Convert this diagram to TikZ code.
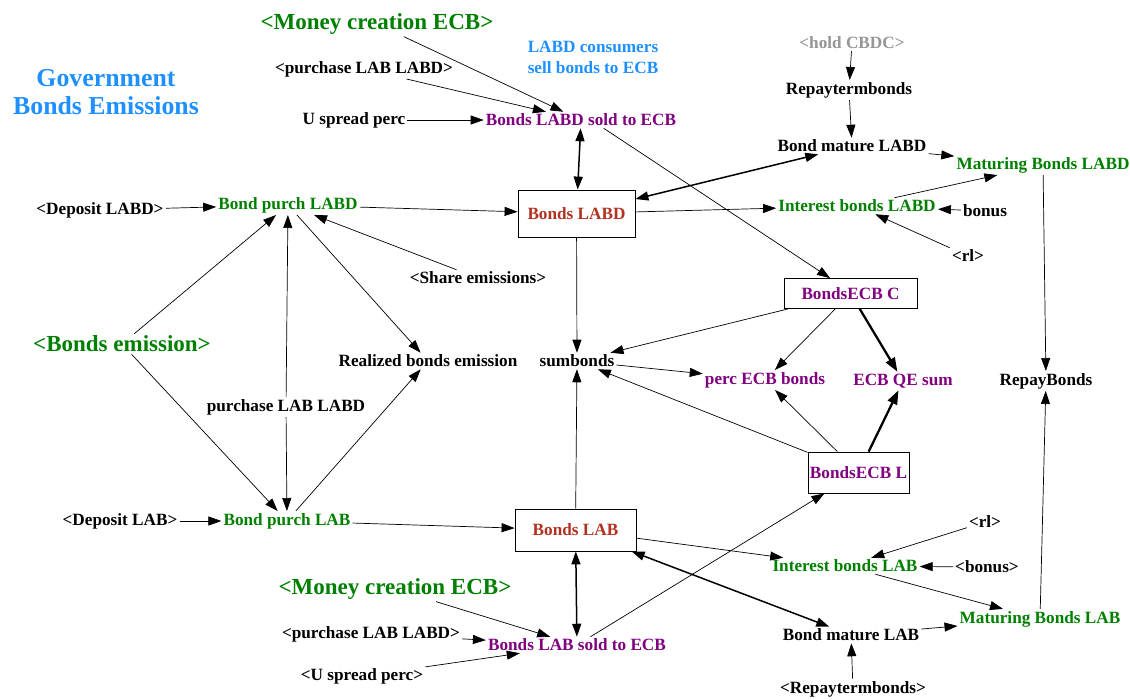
\documentclass[tikz,border=0pt]{standalone}
\usepackage{fontspec}
\setmainfont{Liberation Serif}
\usetikzlibrary{arrows.meta}
\definecolor{vgreen}{RGB}{0,128,0}
\definecolor{vpurple}{RGB}{128,0,128}
\definecolor{vred}{RGB}{178,50,34}
\definecolor{vblue}{RGB}{30,144,255}
\definecolor{vgray}{RGB}{150,150,150}
\begin{document}
\begin{tikzpicture}[x=1pt,y=-1pt,
  every node/.style={font=\bfseries\fontsize{17.2}{21}\selectfont, inner sep=2pt},
  big/.style={font=\bfseries\fontsize{23}{27}\selectfont},
  ttl/.style={font=\bfseries\fontsize{25.8}{28}\selectfont, text=vblue, align=center},
  grn/.style={text=vgreen},
  pur/.style={text=vpurple},
  gry/.style={text=vgray},
  stock/.style={draw, line width=0.8pt, inner sep=0pt},
  arr/.style={-{Triangle[length=13pt,width=9pt]}, line width=0.7pt},
  darr/.style={{Triangle[length=13pt,width=9pt]}-{Triangle[length=13pt,width=9pt]}, line width=1.5pt},
  thk/.style={-{Triangle[length=14pt,width=10pt]}, line width=2.3pt},
]
\useasboundingbox[fill=white] (0,0) rectangle (1130,699);

% text nodes
\node[ttl] (title) at (106,92) {Government\\Bonds Emissions};
\node[big,grn] (mcTop) at (377,24) {<Money creation ECB>};
\node[text=vblue, align=left] (note) at (593,57) {LABD consumers\\sell bonds to ECB};
\node (plTop) at (364,69) {<purchase LAB LABD>};
\node (usp) at (354,120) {U spread perc};
\node[pur] (blsold) at (581,120) {Bonds LABD sold to ECB};
\node[gry] (hold) at (852,43) {<hold CBDC>};
\node (repay) at (849,90) {Repaytermbonds};
\node (bmLABD) at (852,146) {Bond mature LABD};
\node[grn] (mbLABD) at (1043,165) {Maturing Bonds LABD};
\node (depLABD) at (100,210) {<Deposit LABD>};
\node[grn] (bpLABD) at (288,205) {Bond purch LABD};
\node[stock, text=vred, minimum width=117pt, minimum height=47pt] (bLABD) at (576.5,213.5) {Bonds LABD};
\node[grn] (ibLABD) at (857,206) {Interest bonds LABD};
\node (bonus) at (985,211) {bonus};
\node (rlTop) at (968,256) {<rl>};
\node (share) at (478,278) {<Share emissions>};
\node[stock, pur, minimum width=133pt, minimum height=30pt] (ecbC) at (850.5,293.5) {BondsECB C};
\node[big,grn] (bemis) at (122,344) {<Bonds emission>};
\node (rbe) at (428,361) {Realized bonds emission};
\node (sumb) at (577,361) {sumbonds};
\node[pur] (perc) at (765,380) {perc ECB bonds};
\node[pur] (qe) at (903,381) {ECB QE sum};
\node (repayB) at (1046,381) {RepayBonds};
\node (plabd) at (286,407) {purchase LAB LABD};
\node[stock, pur, minimum width=101pt, minimum height=41pt] (ecbL) at (858.5,472.5) {BondsECB L};
\node (depLAB) at (120,521) {<Deposit LAB>};
\node[grn] (bpLAB) at (287,521) {Bond purch LAB};
\node[stock, text=vred, minimum width=121pt, minimum height=42pt] (bLAB) at (575.5,530) {Bonds LAB};
\node (rlBot) at (985,522) {<rl>};
\node[grn] (ibLAB) at (845,566) {Interest bonds LAB};
\node (bonusBot) at (987,567) {<bonus>};
\node[big,grn] (mcBot) at (395,589) {<Money creation ECB>};
\node (plBot) at (371,634) {<purchase LAB LABD>};
\node[pur] (blabsold) at (577,645) {Bonds LAB sold to ECB};
\node[grn] (mbLAB) at (1040,619) {Maturing Bonds LAB};
\node (bmLAB) at (851,635) {Bond mature LAB};
\node (uspBot) at (362,676) {<U spread perc>};
\node (repBot) at (853,689) {<Repaytermbonds>};

% connectors - top part
\draw[arr] (mcTop) -- (blsold);
\draw[arr] (plTop) -- (blsold);
\draw[arr] (usp) -- (blsold);
\draw[darr] (blsold) -- (bLABD);
\draw[arr] (blsold.-20) -- (ecbC.143);
\draw[arr] (hold) -- (repay);
\draw[arr] (repay) -- (bmLABD);
\draw[darr] (bLABD) -- (bmLABD);
\draw[arr] (bmLABD) -- (mbLABD);
\draw[arr] (bLABD) -- (ibLABD);
\draw[arr] (ibLABD) -- (mbLABD);
\draw[arr] (bonus) -- (ibLABD);
\draw[arr] (rlTop) -- (ibLABD);
\draw[arr] (mbLABD) -- (repayB);
\draw[arr] (depLABD) -- (bpLABD);
\draw[arr] (bpLABD) -- (bLABD);
\draw[arr] (share) -- (bpLABD);
\draw[arr] (bpLABD) -- (rbe);
\draw[arr] (bemis) -- (bpLABD);
\draw[arr] (plabd) -- (bpLABD);
% middle
\draw[arr] (bemis) -- (bpLAB);
\draw[arr] (plabd) -- (bpLAB);
\draw[arr] (bpLAB) -- (rbe);
\draw[arr] (bLABD) -- (sumb);
\draw[arr] (ecbC) -- (sumb);
\draw[arr] (sumb) -- (perc);
\draw[arr] (ecbC) -- (perc);
\draw[thk] (ecbC) -- (qe);
\draw[arr] (ecbL) -- (sumb);
\draw[arr] (ecbL) -- (perc);
\draw[thk] (ecbL) -- (qe);
\draw[arr] (bLAB) -- (sumb);
% bottom
\draw[arr] (depLAB) -- (bpLAB);
\draw[arr] (bpLAB) -- (bLAB);
\draw[darr] (bLAB) -- (blabsold);
\draw[arr] (blabsold) -- (ecbL);
\draw[arr] (bLAB) -- (ibLAB);
\draw[darr] (bLAB) -- (bmLAB);
\draw[arr] (rlBot) -- (ibLAB);
\draw[arr] (bonusBot) -- (ibLAB);
\draw[arr] (ibLAB) -- (mbLAB);
\draw[arr] (bmLAB) -- (mbLAB);
\draw[arr] (repBot) -- (bmLAB);
\draw[arr] (mbLAB) -- (repayB);
\draw[arr] (mcBot) -- (blabsold);
\draw[arr] (plBot) -- (blabsold);
\draw[arr] (uspBot) -- (blabsold);
\end{tikzpicture}
\end{document}
